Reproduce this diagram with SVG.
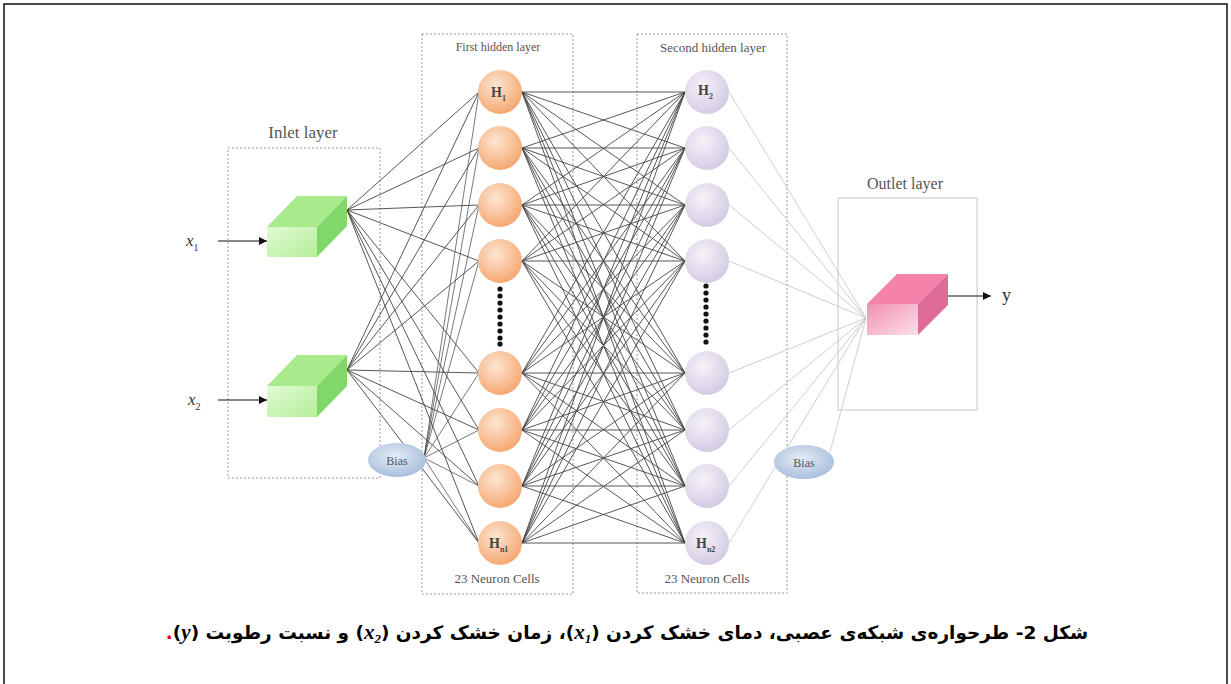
<svg xmlns="http://www.w3.org/2000/svg" width="1231" height="684" viewBox="0 0 1231 684">
<style>
.lbl{font-family:"Liberation Serif",serif;fill:#555}
.nl{font-family:"Liberation Serif",serif;fill:#444;font-weight:bold;font-size:14px}
.dash{fill:none;stroke:#999;stroke-width:1;stroke-dasharray:2 2}
.dk{fill:none;stroke:#444;stroke-width:0.9}
.lt{fill:none;stroke:#c8c8c8;stroke-width:0.9}
.dot{fill:#111}
</style>
<defs>
<radialGradient id="og" cx="0.4" cy="0.35" r="0.7"><stop offset="0" stop-color="#fde6d2"/><stop offset="1" stop-color="#f5a46c"/></radialGradient>
<radialGradient id="pg" cx="0.4" cy="0.35" r="0.7"><stop offset="0" stop-color="#f6f3f9"/><stop offset="1" stop-color="#d2c8e2"/></radialGradient>
<radialGradient id="bg" cx="0.45" cy="0.4" r="0.7"><stop offset="0" stop-color="#e6edf6"/><stop offset="1" stop-color="#9fb7d8"/></radialGradient>
<linearGradient id="gf" x1="0" y1="0" x2="1" y2="1"><stop offset="0" stop-color="#e2fad6"/><stop offset="1" stop-color="#b4ee96"/></linearGradient>
<linearGradient id="pf" x1="1" y1="1" x2="0" y2="0"><stop offset="0" stop-color="#fbe0ea"/><stop offset="1" stop-color="#f38fb3"/></linearGradient>
<marker id="ah" viewBox="0 0 10 10" refX="10" refY="5" markerWidth="10" markerHeight="8" markerUnits="userSpaceOnUse" orient="auto"><path d="M0 0L10 5L0 10z" fill="#111"/></marker>
</defs>
<rect x="4" y="4" width="1223" height="700" fill="#fff" stroke="#111" stroke-width="1.5"/>

<g id="frames">
<rect class="dash" x="228" y="148" width="152" height="330"/>
<rect class="dash" x="422" y="34" width="151" height="560"/>
<rect class="dash" x="637" y="34" width="150" height="559"/>
<rect x="838" y="198" width="139" height="212" fill="none" stroke="#c8c8c8" stroke-width="1"/>
<text class="lbl" x="303" y="138" font-size="17" text-anchor="middle">Inlet layer</text>
<text class="lbl" x="498" y="51" font-size="12" text-anchor="middle" fill="#444">First hidden layer</text>
<text class="lbl" x="713" y="52" font-size="13" text-anchor="middle" fill="#444">Second hidden layer</text>
<text class="lbl" x="497" y="583" font-size="13" text-anchor="middle" fill="#444">23 Neuron Cells</text>
<text class="lbl" x="707" y="583" font-size="13" text-anchor="middle" fill="#444">23 Neuron Cells</text>
<text class="lbl" x="905" y="189" font-size="16" text-anchor="middle">Outlet layer</text>
</g>

<g id="connectors">
<path class="dk" d="M347 210L479 92M347 210L479 148M347 210L479 205M347 210L479 261M347 210L479 373M347 210L479 430M347 210L479 486M347 210L479 543"/>
<path class="dk" d="M347 370L479 92M347 370L479 148M347 370L479 205M347 370L479 261M347 370L479 373M347 370L479 430M347 370L479 486M347 370L479 543"/>
<path class="dk" stroke-opacity="0.8" d="M424 458L479 92M424 458L479 148M424 458L479 205M424 458L479 261M424 458L479 373M424 458L479 430M424 458L479 486M424 458L479 543"/>
<path class="dk" d="M522 92L685 92M522 92L685 148M522 92L685 205M522 92L685 261M522 92L685 373M522 92L685 430M522 92L685 486M522 92L685 543"/>
<path class="dk" d="M522 148L685 92M522 148L685 148M522 148L685 205M522 148L685 261M522 148L685 373M522 148L685 430M522 148L685 486M522 148L685 543"/>
<path class="dk" d="M522 205L685 92M522 205L685 148M522 205L685 205M522 205L685 261M522 205L685 373M522 205L685 430M522 205L685 486M522 205L685 543"/>
<path class="dk" d="M522 261L685 92M522 261L685 148M522 261L685 205M522 261L685 261M522 261L685 373M522 261L685 430M522 261L685 486M522 261L685 543"/>
<path class="dk" d="M522 373L685 92M522 373L685 148M522 373L685 205M522 373L685 261M522 373L685 373M522 373L685 430M522 373L685 486M522 373L685 543"/>
<path class="dk" d="M522 430L685 92M522 430L685 148M522 430L685 205M522 430L685 261M522 430L685 373M522 430L685 430M522 430L685 486M522 430L685 543"/>
<path class="dk" d="M522 486L685 92M522 486L685 148M522 486L685 205M522 486L685 261M522 486L685 373M522 486L685 430M522 486L685 486M522 486L685 543"/>
<path class="dk" d="M522 543L685 92M522 543L685 148M522 543L685 205M522 543L685 261M522 543L685 373M522 543L685 430M522 543L685 486M522 543L685 543"/>
<path class="lt" d="M729 92L866 318M729 148L866 318M729 205L866 318M729 261L866 318M729 373L866 318M729 430L866 318M729 486L866 318M729 543L866 318M830 452L866 318"/>
<line x1="218" y1="241" x2="267" y2="241" stroke="#111" stroke-width="1.2" marker-end="url(#ah)"/>
<line x1="218" y1="400" x2="267" y2="400" stroke="#111" stroke-width="1.2" marker-end="url(#ah)"/>
<line x1="948" y1="296" x2="991" y2="296" stroke="#111" stroke-width="1.2" marker-end="url(#ah)"/>
</g>

<g id="in1">
<rect x="267" y="227" width="50" height="30" fill="url(#gf)"/>
<polygon points="267,227 317,227 347,196 297,196" fill="#a8ea8c"/>
<polygon points="317,227 347,196 347,226 317,257" fill="#80d868"/>
<text x="186" y="246" font-family="Liberation Serif,serif" font-style="italic" font-size="17" fill="#333">x<tspan font-size="10" font-style="normal" dy="5">1</tspan></text>
</g>
<g id="in2">
<rect x="267" y="386" width="50" height="31" fill="url(#gf)"/>
<polygon points="267,386 317,386 347,355 297,355" fill="#a8ea8c"/>
<polygon points="317,386 347,355 347,386 317,417" fill="#80d868"/>
<text x="188" y="405" font-family="Liberation Serif,serif" font-style="italic" font-size="17" fill="#333">x<tspan font-size="10" font-style="normal" dy="5">2</tspan></text>
</g>
<g id="bias1">
<ellipse cx="397" cy="460" rx="29" ry="17" fill="url(#bg)"/>
<text class="lbl" x="397" y="465" font-size="12" text-anchor="middle" fill="#444">Bias</text>
</g>

<g id="hidden1">
<circle cx="500" cy="92" r="22" fill="url(#og)"/>
<circle cx="500" cy="148" r="22" fill="url(#og)"/>
<circle cx="500" cy="205" r="22" fill="url(#og)"/>
<circle cx="500" cy="261" r="22" fill="url(#og)"/>
<circle cx="500" cy="373" r="22" fill="url(#og)"/>
<circle cx="500" cy="430" r="22" fill="url(#og)"/>
<circle cx="500" cy="486" r="22" fill="url(#og)"/>
<circle cx="500" cy="543" r="22" fill="url(#og)"/>
<text class="nl" x="491" y="97">H<tspan font-size="8" dy="4">1</tspan></text>
<text class="nl" x="489" y="548">H<tspan font-size="8" dy="4">n1</tspan></text>
<g class="dot"><circle cx="500" cy="289" r="2.6"/><circle cx="500" cy="296" r="2.6"/><circle cx="500" cy="303" r="2.6"/><circle cx="500" cy="310" r="2.6"/><circle cx="500" cy="317" r="2.6"/><circle cx="500" cy="324" r="2.6"/><circle cx="500" cy="331" r="2.6"/><circle cx="500" cy="338" r="2.6"/><circle cx="500" cy="344" r="2.6"/></g>
</g>

<g id="hidden2">
<circle cx="707" cy="92" r="22" fill="url(#pg)"/>
<circle cx="707" cy="148" r="22" fill="url(#pg)"/>
<circle cx="707" cy="205" r="22" fill="url(#pg)"/>
<circle cx="707" cy="261" r="22" fill="url(#pg)"/>
<circle cx="707" cy="373" r="22" fill="url(#pg)"/>
<circle cx="707" cy="430" r="22" fill="url(#pg)"/>
<circle cx="707" cy="486" r="22" fill="url(#pg)"/>
<circle cx="707" cy="543" r="22" fill="url(#pg)"/>
<text class="nl" x="698" y="95" fill="#555">H<tspan font-size="8" dy="4">2</tspan></text>
<text class="nl" x="696" y="548" fill="#555">H<tspan font-size="8" dy="4">n2</tspan></text>
<g class="dot"><circle cx="706" cy="286" r="2.6"/><circle cx="706" cy="293" r="2.6"/><circle cx="706" cy="300" r="2.6"/><circle cx="706" cy="307" r="2.6"/><circle cx="706" cy="314" r="2.6"/><circle cx="706" cy="321" r="2.6"/><circle cx="706" cy="328" r="2.6"/><circle cx="706" cy="335" r="2.6"/><circle cx="706" cy="342" r="2.6"/></g>
</g>

<g id="bias2">
<ellipse cx="804" cy="462" rx="30" ry="17" fill="url(#bg)"/>
<text class="lbl" x="804" y="467" font-size="12" text-anchor="middle" fill="#444">Bias</text>
</g>

<g id="out">
<rect x="867" y="304" width="51" height="31" fill="url(#pf)"/>
<polygon points="867,304 918,304 948,274 897,274" fill="#f482ab"/>
<polygon points="918,304 948,274 948,305 918,335" fill="#de6c97"/>
<text x="1002" y="301" font-family="Liberation Serif,serif" font-size="18" fill="#333">y</text>
</g>

<g id="caption">
<text x="627" y="639" direction="rtl" text-anchor="middle" font-family="DejaVu Sans,sans-serif" font-weight="bold" font-size="18.5" fill="#000">شکل 2- طرحواره‌ی شبکه‌ی عصبی، دمای خشک کردن (<tspan font-family="Liberation Serif,serif" font-style="italic" font-size="21">x<tspan font-size="13" baseline-shift="-4">1</tspan></tspan>)، زمان خشک کردن (<tspan font-family="Liberation Serif,serif" font-style="italic" font-size="21">x<tspan font-size="13" baseline-shift="-4">2</tspan></tspan>) و نسبت رطوبت (<tspan font-family="Liberation Serif,serif" font-style="italic" font-size="21">y</tspan>)<tspan fill="#e00000">.</tspan></text>
</g>
</svg>
